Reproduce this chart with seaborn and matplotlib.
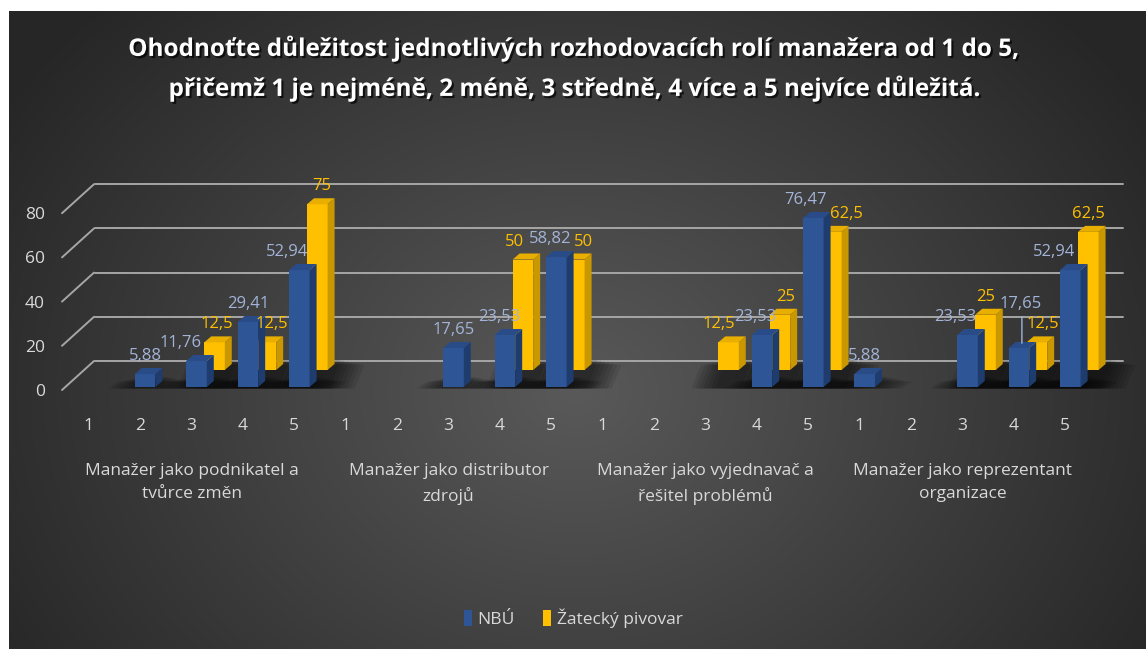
import numpy as np
import pandas as pd
import matplotlib
matplotlib.use("Agg")
import matplotlib.pyplot as plt
import matplotlib.transforms as mtransforms
import matplotlib.patheffects as pe
from matplotlib.patches import Polygon, Rectangle
import seaborn as sns

# ---------------- data ----------------
title_lines = ["Ohodnoťte důležitost jednotlivých rozhodovacích rolí manažera od 1 do 5,",
               "přičemž 1 je nejméně, 2 méně, 3 středně, 4 více a 5 nejvíce důležitá."]
categories = ["Manažer jako podnikatel a\ntvůrce změn",
              "Manažer jako distributor\nzdrojů",
              "Manažer jako vyjednavač a\nřešitel problémů",
              "Manažer jako reprezentant\norganizace"]
scores = ["1", "2", "3", "4", "5"]
series_names = ["NBÚ", "Žatecký pivovar"]
nbu = [[0, 5.88, 11.76, 29.41, 52.94],
       [0, 0, 17.65, 23.53, 58.82],
       [0, 0, 0, 23.53, 76.47],
       [5.88, 0, 23.53, 17.65, 52.94]]
zatec = [[0, 0, 12.5, 12.5, 75],
         [0, 0, 0, 50, 50],
         [0, 0, 12.5, 25, 62.5],
         [0, 0, 25, 12.5, 62.5]]
y_ticks = [0, 20, 40, 60, 80]

# ---------------- style ----------------
BLUE, BLUE_SIDE, BLUE_TOP = "#2E5596", "#1F3C6E", "#294C88"
YEL, YEL_SIDE, YEL_TOP = "#FFC000", "#C99700", "#E8AE00"
BLUE_LBL = "#A3B4D8"
TXT = "#D9D9D9"
FONT = ["Open Sans", "DejaVu Sans"]

# horizontal label nudges in px (style only, as in the original manual layout)
NUDGE_N = {1: 0, 2: -16, 3: 0, 4: -12, 7: 0, 8: -6, 9: -6, 13: -7, 14: -8,
           15: 0, 17: -12, 18: 2, 19: -16}
NUDGE_Z = {2: 2, 3: 6, 4: 4, 8: -8, 9: 9, 12: -10, 13: 6, 14: 15,
           17: 0, 18: 6, 19: 0}
LIFT_N = {18: 26}   # raised label with leader line

sns.set_theme(style="white")
plt.rcParams["font.family"] = FONT

W, H, DPI = 1146, 649, 100
fig = plt.figure(figsize=(W / DPI, H / DPI), dpi=DPI, facecolor="white")

# background panel with radial gradient
bg = fig.add_axes([9 / W, 0, (W - 9) / W, (H - 11) / H])
bg.set_axis_off()
yy, xx = np.mgrid[0:638, 0:1137]
r = np.sqrt(((xx - 566) / 640.0) ** 2 + ((yy - 380) / 520.0) ** 2)
val = np.clip(0.35 - 0.19 * r, 0.15, 0.35)
bg.imshow(np.dstack([val, val, val]), aspect="auto", extent=(0, 1, 0, 1))
bg.set_xlim(0, 1)
bg.set_ylim(0, 1)

# main axes: data y=0 at pixel 387 (front row), 2.21 px per unit
ax_left, ax_w = 63.0, 1028.0
ax_bottom = H - 387
ax_h = 2.21 * 100
ax = fig.add_axes([ax_left / W, ax_bottom / H, ax_w / W, ax_h / H])
ax.patch.set_alpha(0)
ax.set_xlim(-0.5, 19.5)
ax.set_ylim(0, 100)

n_pos = len(categories) * len(scores)
order = [f"{g}-{s}" for g in range(len(categories)) for s in scores]
df_n = pd.DataFrame({"pos": order, "value": np.array(nbu).ravel()})
df_z = pd.DataFrame({"pos": order, "value": np.array(zatec).ravel()})


def px_offset(dx, dy):
    return mtransforms.ScaledTranslation(dx / DPI, dy / DPI, fig.dpi_scale_trans)


# pixel scale of data units
p0 = ax.transData.transform((0, 0))
p1 = ax.transData.transform((1, 1))
sx, sy = p1[0] - p0[0], p1[1] - p0[1]

BACK = (32, 26)      # back wall offset (px)
ROW_Z = (23, 17)     # back row offset (px)
ROW_N = (5, 0)       # front row offset (px)
DEPTH = (7, 6)       # bar depth (px)

# gridlines on back wall + left diagonal
for v in y_ticks:
    ax.plot([-0.5, 19.5], [v, v], color="#A6A6A6", lw=1.4,
            transform=ax.transData + px_offset(*BACK), clip_on=False, zorder=1)
    ax.plot([-0.5 - 1 / sx, -0.5 - 1 / sx + BACK[0] / sx], [v - 3 / sy, v + BACK[1] / sy],
            color="#A6A6A6", lw=1.4, clip_on=False, zorder=1)

# floor shadows (soft, layered)
for df, (ox, oy) in [(df_n, ROW_N), (df_z, ROW_Z)]:
    for i, v in enumerate(df["value"]):
        if v <= 0:
            continue
        for k in range(7):
            grow = 3 + k * 4
            x0 = i - 0.2 - grow / sx
            x1 = i + 0.2 + grow / sx
            yb = -1.5 / sy
            yt = (oy + 10 - k * 0.8) / sy
            poly = Polygon([[x0 + ox / sx, yb], [x1 + ox / sx, yb],
                            [x1 + (ox + 10) / sx, yt], [x0 + (ox + 10) / sx, yt]],
                           closed=True, facecolor="black", alpha=0.09, lw=0,
                           clip_on=False, zorder=1.5)
            ax.add_patch(poly)

# bars via seaborn
def draw_series(df, color, side, top, off, z):
    before = len(ax.patches)
    sns.barplot(data=df, x="pos", y="value", order=order, color=color, width=0.4,
                saturation=1, linewidth=0, ax=ax, errorbar=None, zorder=z)
    bars = ax.patches[before:]
    tr = ax.transData + px_offset(*off)
    for b in bars:
        b.set_transform(tr)
        b.set_zorder(z)
        b.set_clip_on(False)
        h = b.get_height()
        if h <= 0:
            b.set_visible(False)
            continue
        x0, x1 = b.get_x(), b.get_x() + b.get_width()
        ddx, ddy = DEPTH[0] / sx, DEPTH[1] / sy
        ax.add_patch(Polygon([[x1, 0], [x1 + ddx, ddy], [x1 + ddx, h + ddy], [x1, h]],
                             closed=True, facecolor=side, lw=0, transform=tr,
                             clip_on=False, zorder=z))
        ax.add_patch(Polygon([[x0, h], [x1, h], [x1 + ddx, h + ddy], [x0 + ddx, h + ddy]],
                             closed=True, facecolor=top, lw=0, transform=tr,
                             clip_on=False, zorder=z))
    return bars


bars_z = draw_series(df_z, YEL, YEL_SIDE, YEL_TOP, ROW_Z, 3)
bars_n = draw_series(df_n, BLUE, BLUE_SIDE, BLUE_TOP, ROW_N, 4)

# data labels
def fmt(v):
    s = f"{v:.2f}".rstrip("0").rstrip(".")
    return s.replace(".", ",")


for bars, vals, off, col, nudges, lifts in [(bars_z, df_z["value"], ROW_Z, YEL, NUDGE_Z, {}),
                                            (bars_n, df_n["value"], ROW_N, BLUE_LBL, NUDGE_N, LIFT_N)]:
    for i, (b, v) in enumerate(zip(bars, vals)):
        if v <= 0:
            continue
        cx = b.get_x() + b.get_width() / 2
        extra = lifts.get(i, 0)
        sh = nudges.get(i, 0)
        ax.text(cx, v, fmt(v), ha="center", va="bottom", color=col, fontsize=12,
                transform=ax.transData + px_offset(off[0] + sh, off[1] + 10 + extra),
                zorder=6, clip_on=False)
        if extra:
            ax.annotate("", xy=(cx + (off[0] + 3) / sx, v + 2 / sy),
                        xytext=(cx + (off[0] + 3) / sx, v + (10 + extra - 2) / sy),
                        arrowprops=dict(arrowstyle="-", color=BLUE_LBL, lw=1),
                        zorder=6)

# axes ticks
ax.set_yticks(y_ticks)
ax.set_yticklabels([str(t) for t in y_ticks], color=TXT, fontsize=12.5)
ax.set_xticks(range(n_pos))
ax.set_xticklabels(scores * len(categories), color=TXT, fontsize=12.5)
ax.tick_params(axis="x", length=0, pad=22)
ax.tick_params(axis="y", length=0, pad=13)
for lbl in ax.get_yticklabels():
    lbl.set_transform(lbl.get_transform() + px_offset(0, -3))
ax.set_xlabel("")
ax.set_ylabel("")
for s in ax.spines.values():
    s.set_visible(False)
ax.grid(False)

# group labels
for g, name in enumerate(categories):
    cx = g * len(scores) + (len(scores) - 1) / 2
    ax.text(cx, 0, name, ha="center", va="top", color=TXT, fontsize=12.5,
            linespacing=1.6, transform=ax.transData + px_offset(0, -76), clip_on=False)

# title
for k, line in enumerate(title_lines):
    fig.text(0.5, 1 - (49 + 40 * k) / H, line, ha="center", va="center", color="white",
             fontsize=17.5, fontweight="bold",
             path_effects=[pe.withSimplePatchShadow(offset=(1.5, -1.5), shadow_rgbFace="black", alpha=0.7)])

# legend
handles = [Rectangle((0, 0), 1, 1, facecolor=BLUE, lw=0),
           Rectangle((0, 0), 1, 1, facecolor=YEL, lw=0)]
leg = fig.legend(handles, series_names, loc="center", bbox_to_anchor=(0.5, 1 - 618 / H),
                 ncol=2, frameon=False, fontsize=12.5, handlelength=0.5, handleheight=1.1,
                 handletextpad=0.3, columnspacing=1.6, labelcolor=TXT)

fig.savefig("out.png", dpi=DPI, facecolor="white")
